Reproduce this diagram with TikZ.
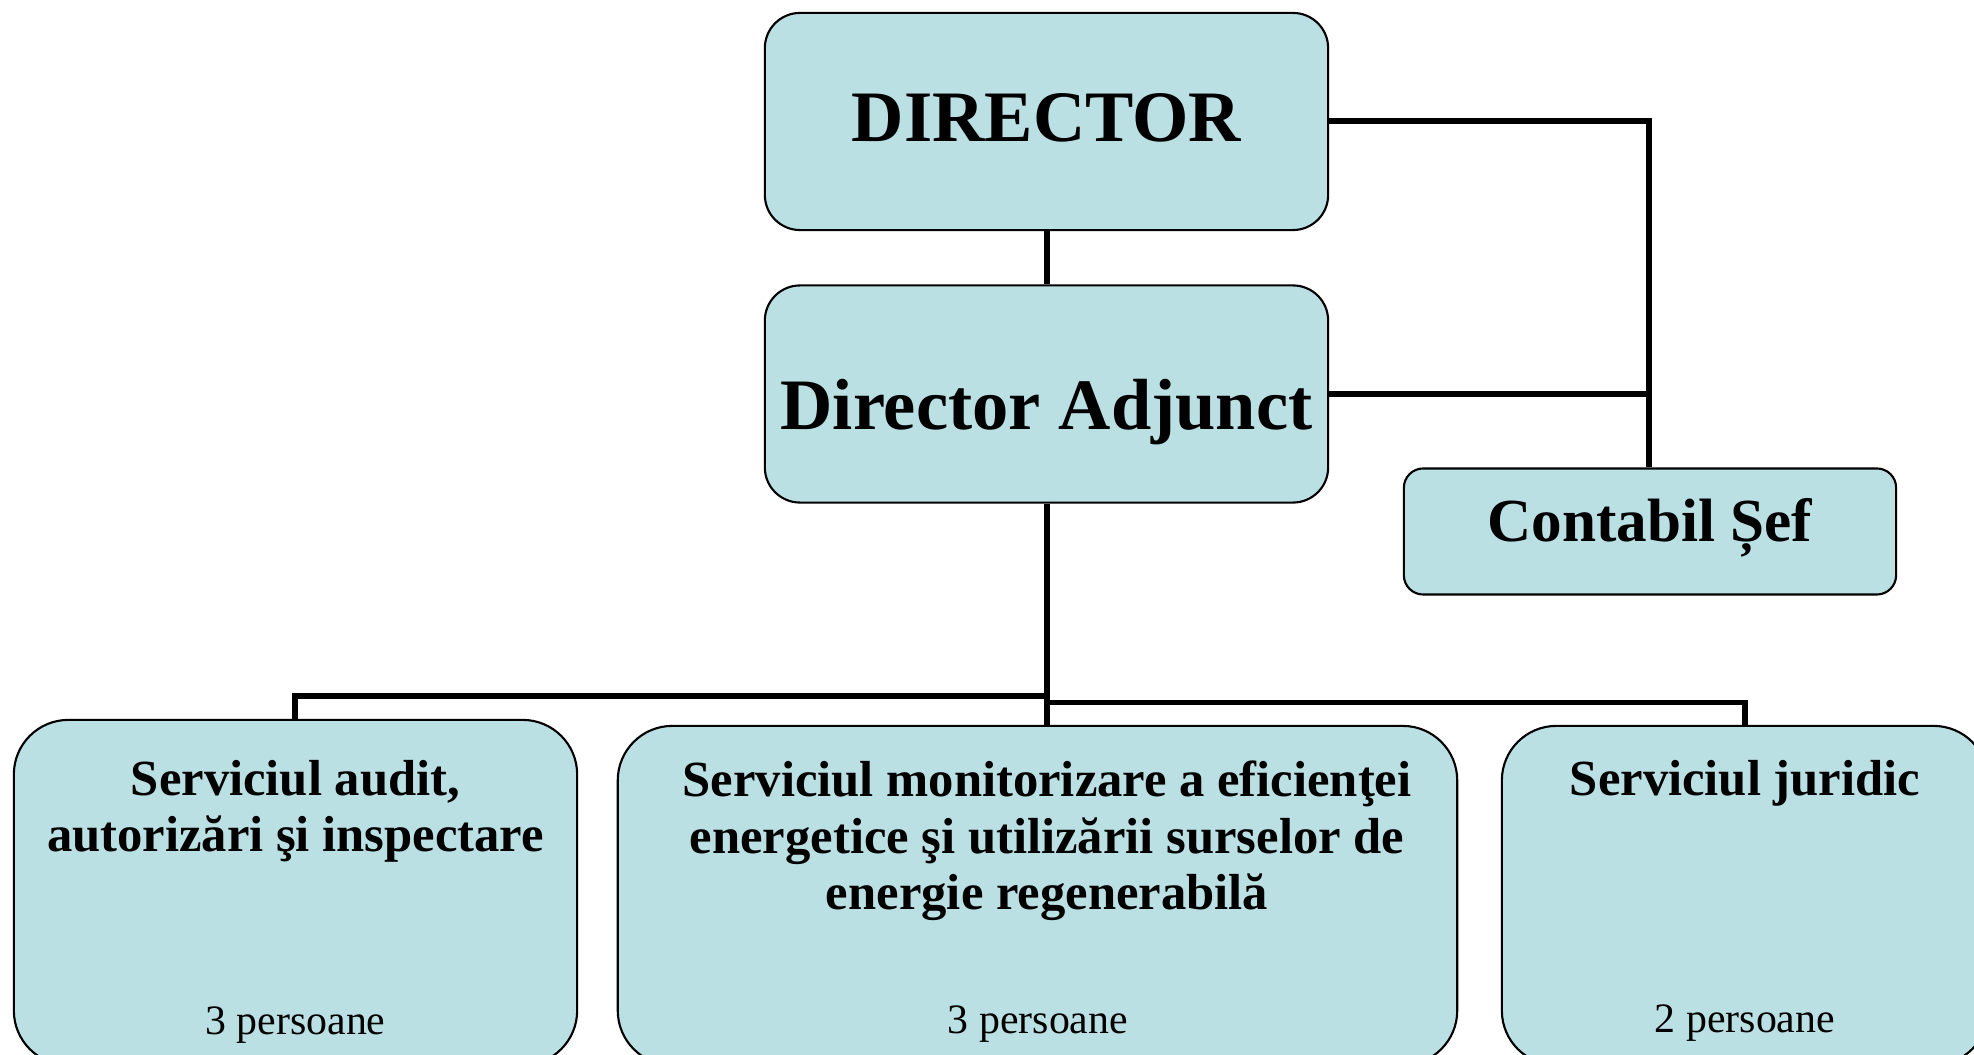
\documentclass[tikz,border=0pt]{standalone}
\usepackage{fontspec}
\setmainfont{Liberation Serif}
\definecolor{boxfill}{RGB}{187,224,228}
\tikzset{
  x=0.01cm, y=-0.01cm,
  orgbox/.style={draw=black, line width=0.6pt, fill=boxfill, inner sep=0pt},
  conn/.style={draw=black, line width=1.7pt},
  bigtxt/.style={font=\fontsize{20.6pt}{24pt}\selectfont\bfseries, inner sep=0pt, anchor=base},
  midtxt/.style={font=\fontsize{17.4pt}{21pt}\selectfont\bfseries, inner sep=0pt, anchor=base},
  svctxt/.style={font=\fontsize{14.4pt}{16.2pt}\selectfont\bfseries, inner sep=0pt, align=center, anchor=base},
  perstxt/.style={font=\fontsize{11.9pt}{14pt}\selectfont, inner sep=0pt, anchor=base}
}
\begin{document}
\begin{tikzpicture}
\useasboundingbox (0,0) rectangle (1974,1055);
\clip (0,0) rectangle (1974,1055);
% boxes
\node[orgbox, rounded corners=10pt, minimum width=5.63cm, minimum height=2.17cm] (dir) at (1046.5,121.5) {};
\node[orgbox, rounded corners=10pt, minimum width=5.63cm, minimum height=2.17cm] (adj) at (1046.5,394) {};
\node[orgbox, rounded corners=5.5pt, minimum width=4.92cm, minimum height=1.26cm] (cont) at (1650,531.5) {};
\node[orgbox, rounded corners=15.5pt, minimum width=5.63cm, minimum height=3.45cm] (audit) at (295.5,892.5) {};
\node[orgbox, rounded corners=15.5pt, minimum width=8.39cm, minimum height=3.39cm] (monit) at (1037.5,895.5) {};
\node[orgbox, rounded corners=15.5pt, minimum width=4.86cm, minimum height=3.39cm] (jur) at (1745,895.5) {};
% texts
\node[bigtxt] (tdir) at (1046.5,142) {DIRECTOR};
\node[bigtxt] (tadj) at (1046.5,430) {Director Adjunct};
\node[midtxt] (tcont) at (1650,542) {Contabil Șef};
\node[svctxt] (taudit) at (295.5,852) {Serviciul audit,\\autorizări şi inspectare};
\node[svctxt] (tmonit) at (1047,910) {Serviciul monitorizare a eficienţei\\energetice şi utilizării surselor de\\energie regenerabilă};
\node[svctxt] (tjur) at (1745,796) {Serviciul juridic};
\node[perstxt] (paudit) at (295.5,1035) {3 persoane};
\node[perstxt] (pmonit) at (1038,1034) {3 persoane};
\node[perstxt] (pjur) at (1745,1033) {2 persoane};
% connectors
\coordinate (rdir) at (1649,121);
\coordinate (radj) at (1649,394);
\coordinate (lbr) at (295,696);
\coordinate (cbr) at (1047,696);
\coordinate (cbr2) at (1047,702.5);
\coordinate (rbr) at (1745,702.5);
\draw[conn] (dir.east |- rdir) -- (rdir) -- (cont.north -| rdir);
\draw[conn] (adj.east |- radj) -- (radj);
\draw[conn] (dir.south -| cbr) -- (adj.north -| cbr);
\draw[conn] (adj.south -| cbr) -- (monit.north -| cbr);
\draw[conn] (cbr) -- (lbr) -- (audit.north -| lbr);
\draw[conn] (cbr2) -- (rbr) -- (jur.north -| rbr);
\end{tikzpicture}
\end{document}
